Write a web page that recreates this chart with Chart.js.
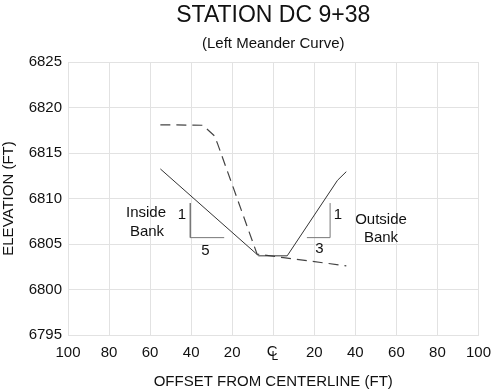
<!DOCTYPE html>
<html>
<head>
  <meta charset="utf-8" />
  <title>Station DC 9+38</title>
  <script src="https://cdn.jsdelivr.net/npm/chart.js@4.4.0/dist/chart.umd.min.js"></script>
  <style>
    html, body { margin: 0; padding: 0; background: #fff; }
    #wrap { width: 500px; height: 391px; position: relative; }
  </style>
</head>
<body>
<div id="wrap"><canvas id="sectionChart"></canvas></div>

<script>
  const chartTitle = 'STATION DC 9+38';
  const chartSubtitle = '(Left Meander Curve)';

  // proposed channel section (solid)
  const proposedX = [-55, -7.1, 6.8, 31.3, 35.6];
  const proposedY = [6813.25, 6803.7, 6803.7, 6812.0, 6812.95];

  // existing ground (dashed)
  const existingX = [-55, -34.3, -28.7, -27.1, -7.9, 5, 35.6];
  const existingY = [6818.1, 6818.05, 6816.9, 6816.0, 6803.9, 6803.5, 6802.6];

  // slope triangles
  const leftSlopeX = [-40.4, -40.4, -23.9];
  const leftSlopeY = [6809.5, 6805.7, 6805.7];
  const rightSlopeX = [16.4, 27.7, 27.7];
  const rightSlopeY = [6805.7, 6805.7, 6809.5];

  // text notes: [x, y, text]
  const notes = [
    [-62.0, 6808.4, 'Inside'],
    [-61.5, 6806.3, 'Bank'],
    [-44.5, 6808.2, '1'],
    [-33.0, 6804.3, '5'],
    [31.5, 6808.2, '1'],
    [22.5, 6804.5, '3'],
    [52.5, 6807.7, 'Outside'],
    [52.5, 6805.7, 'Bank']
  ];

  const xTicks = [-100, -80, -60, -40, -20, 0, 20, 40, 60, 80, 100];

  const toPoints = (xs, ys) => xs.map((x, i) => ({ x: x, y: ys[i] }));

  const fontFamily = '"Liberation Sans", Arial, sans-serif';

  const notesPlugin = {
    id: 'notes',
    afterDatasetsDraw(chart) {
      const ctx = chart.ctx;
      const xs = chart.scales.x, ys = chart.scales.y;
      const area = chart.chartArea;
      const mid = (area.left + area.right) / 2;
      ctx.save();
      ctx.fillStyle = '#111';
      ctx.textAlign = 'center';
      ctx.textBaseline = 'middle';
      // titles centred over the plot area
      ctx.font = '23px ' + fontFamily;
      ctx.fillText(chartTitle, mid, 16);
      ctx.font = '15px ' + fontFamily;
      ctx.fillText(chartSubtitle, mid, 44);
      notes.forEach(n => {
        ctx.fillText(n[2], xs.getPixelForValue(n[0]), ys.getPixelForValue(n[1]));
      });
      // centerline symbol under the 0 tick
      const cx = xs.getPixelForValue(0);
      const ty = area.bottom + 17;
      ctx.fillText('C', cx - 1, ty);
      ctx.font = '12px ' + fontFamily;
      ctx.fillText('L', cx + 1.5, ty + 5);
      ctx.restore();
    }
  };

  new Chart(document.getElementById('sectionChart').getContext('2d'), {
    type: 'scatter',
    data: {
      datasets: [
        {
          label: 'Proposed',
          data: toPoints(proposedX, proposedY),
          showLine: true,
          borderColor: '#333',
          borderWidth: 1,
          pointRadius: 0
        },
        {
          label: 'Existing',
          data: toPoints(existingX, existingY),
          showLine: true,
          borderColor: '#444',
          borderWidth: 1.2,
          borderDash: [10, 6],
          pointRadius: 0
        },
        {
          label: 'Slope L',
          data: toPoints(leftSlopeX, leftSlopeY),
          showLine: true,
          borderColor: '#777',
          borderWidth: 1,
          pointRadius: 0
        },
        {
          label: 'Slope R',
          data: toPoints(rightSlopeX, rightSlopeY),
          showLine: true,
          borderColor: '#777',
          borderWidth: 1,
          pointRadius: 0
        }
      ]
    },
    options: {
      responsive: true,
      maintainAspectRatio: false,
      animation: false,
      layout: { padding: { left: 0, right: 15, top: 62, bottom: 0 } },
      plugins: {
        legend: { display: false },
        tooltip: { enabled: false }
      },
      scales: {
        x: {
          type: 'linear',
          min: -100,
          max: 100,
          afterBuildTicks: s => { s.ticks = xTicks.map(v => ({ value: v })); },
          afterFit: s => { s.height = 56; },
          grid: { color: '#e2e2e2', drawTicks: false },
          border: { color: '#e2e2e2' },
          ticks: {
            color: '#111',
            padding: 9,
            maxRotation: 0,
            font: { family: fontFamily, size: 15 },
            callback: v => (v === 0 ? '' : String(Math.abs(v)))
          },
          title: {
            display: true,
            text: 'OFFSET FROM CENTERLINE (FT)',
            color: '#111',
            font: { family: fontFamily, size: 15 },
            padding: { top: 1, bottom: 0 }
          }
        },
        y: {
          min: 6795,
          max: 6825,
          afterFit: s => { s.width = 68; },
          grid: { color: '#e2e2e2', drawTicks: false },
          border: { color: '#e2e2e2' },
          ticks: {
            stepSize: 5,
            color: '#111',
            padding: 6,
            font: { family: fontFamily, size: 15 },
            callback: v => String(v)
          },
          title: {
            display: true,
            text: 'ELEVATION (FT)',
            color: '#111',
            font: { family: fontFamily, size: 15 },
            padding: { top: 0, bottom: 4 }
          }
        }
      }
    },
    plugins: [notesPlugin]
  });
</script>
</body>
</html>
